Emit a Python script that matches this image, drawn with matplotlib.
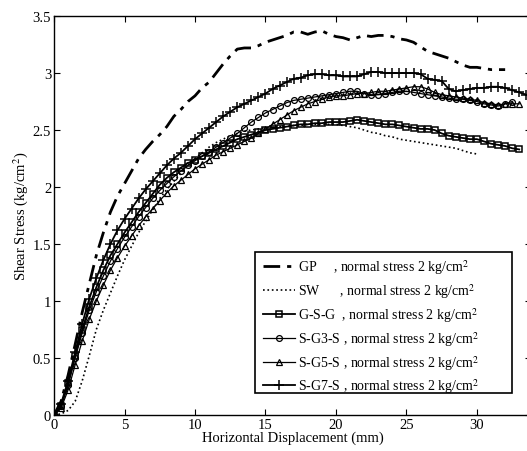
import matplotlib
matplotlib.use("Agg")
import matplotlib.pyplot as plt
from matplotlib.patches import Rectangle

plt.rcParams['font.family'] = ['Liberation Serif', 'DejaVu Serif']
plt.rcParams['mathtext.fontset'] = 'stix'

# horizontal displacement (mm), same grid for every test
disp = [0, 0.5, 1, 1.5, 2, 2.5, 3, 3.5, 4, 4.5, 5, 5.5, 6, 6.5, 7, 7.5, 8, 8.5, 9, 9.5,
        10, 10.5, 11, 11.5, 12, 12.5, 13, 13.5, 14, 14.5, 15, 15.5, 16, 16.5, 17, 17.5,
        18, 18.5, 19, 19.5, 20, 20.5, 21, 21.5, 22, 22.5, 23, 23.5, 24, 24.5, 25, 25.5,
        26, 26.5, 27, 27.5, 28, 28.5, 29, 29.5, 30, 30.5, 31, 31.5, 32, 32.5, 33, 33.5]

gp = [0, 0.12, 0.35, 0.62, 0.9, 1.15, 1.4, 1.6, 1.78, 1.92, 2.03, 2.14, 2.25, 2.33, 2.4, 2.46,
      2.53, 2.62, 2.68, 2.75, 2.8, 2.87, 2.92, 3.0, 3.08, 3.15, 3.21, 3.22, 3.22, 3.24, 3.27,
      3.29, 3.31, 3.33, 3.36, 3.36, 3.34, 3.36, 3.37, 3.34, 3.32, 3.31, 3.29, 3.31, 3.33, 3.32,
      3.33, 3.33, 3.32, 3.30, 3.29, 3.27, 3.23, 3.19, 3.17, 3.15, 3.13, 3.1, 3.07, 3.05, 3.05,
      3.04, 3.03, 3.03, 3.03]

sw = [0, 0.01, 0.04, 0.12, 0.3, 0.52, 0.75, 0.92, 1.07, 1.22, 1.36, 1.48, 1.6, 1.7, 1.8, 1.9,
      1.98, 2.05, 2.12, 2.19, 2.25, 2.3, 2.35, 2.39, 2.42, 2.45, 2.47, 2.49, 2.5, 2.51, 2.52,
      2.52, 2.53, 2.53, 2.54, 2.54, 2.55, 2.55, 2.55, 2.55, 2.55, 2.54, 2.53, 2.52, 2.5, 2.48,
      2.47, 2.45, 2.44, 2.42, 2.41, 2.4, 2.39, 2.38, 2.37, 2.36, 2.35, 2.34, 2.32, 2.3, 2.29]

gsg = [0, 0.08, 0.28, 0.52, 0.75, 0.95, 1.12, 1.27, 1.4, 1.5, 1.6, 1.69, 1.78, 1.86, 1.94, 2.02,
       2.08, 2.13, 2.17, 2.21, 2.24, 2.27, 2.3, 2.33, 2.36, 2.39, 2.42, 2.44, 2.46, 2.48, 2.5,
       2.51, 2.52, 2.53, 2.54, 2.55, 2.55, 2.56, 2.56, 2.57, 2.57, 2.57, 2.58, 2.59, 2.58, 2.57,
       2.56, 2.55, 2.55, 2.54, 2.53, 2.52, 2.51, 2.51, 2.5, 2.47, 2.45, 2.44, 2.43, 2.42, 2.42,
       2.4, 2.38, 2.37, 2.36, 2.34, 2.33]

sg3s = [0, 0.08, 0.26, 0.5, 0.72, 0.92, 1.08, 1.22, 1.35, 1.46, 1.56, 1.65, 1.74, 1.82, 1.9,
        1.97, 2.03, 2.09, 2.14, 2.19, 2.23, 2.27, 2.31, 2.35, 2.39, 2.43, 2.47, 2.52, 2.57, 2.61,
        2.65, 2.68, 2.71, 2.74, 2.76, 2.77, 2.78, 2.79, 2.8, 2.81, 2.82, 2.83, 2.84, 2.84, 2.82,
        2.81, 2.81, 2.82, 2.83, 2.84, 2.84, 2.83, 2.82, 2.81, 2.8, 2.79, 2.78, 2.77, 2.77, 2.76,
        2.75, 2.73, 2.72, 2.71, 2.73, 2.75]

sg5s = [0, 0.06, 0.22, 0.44, 0.65, 0.84, 1.0, 1.14, 1.27, 1.38, 1.48, 1.57, 1.66, 1.74, 1.81,
        1.88, 1.95, 2.01, 2.06, 2.11, 2.16, 2.2, 2.24, 2.28, 2.31, 2.34, 2.37, 2.4, 2.43, 2.47,
        2.51, 2.55, 2.59, 2.63, 2.67, 2.7, 2.73, 2.75, 2.77, 2.79, 2.8, 2.8, 2.81, 2.82, 2.82,
        2.83, 2.84, 2.84, 2.85, 2.86, 2.87, 2.88, 2.88, 2.86, 2.83, 2.81, 2.8, 2.79, 2.78, 2.77,
        2.76, 2.74, 2.73, 2.72, 2.73, 2.73, 2.73]

sg7s = [0, 0.1, 0.3, 0.55, 0.8, 1.02, 1.2, 1.36, 1.5, 1.62, 1.72, 1.81, 1.9, 1.98, 2.05, 2.12,
        2.19, 2.25, 2.3, 2.36, 2.42, 2.47, 2.52, 2.57, 2.62, 2.66, 2.7, 2.73, 2.76, 2.79, 2.82,
        2.86, 2.89, 2.92, 2.95, 2.96, 2.98, 2.99, 2.99, 2.98, 2.98, 2.97, 2.97, 2.97, 2.99, 3.01,
        3.01, 3.0, 3.0, 3.0, 3.0, 3.0, 2.99, 2.95, 2.94, 2.93, 2.86, 2.84, 2.85, 2.86, 2.87,
        2.87, 2.88, 2.88, 2.87, 2.85, 2.83, 2.81]

unit = ', normal stress 2 kg/cm$^2$'
names = ['GP     ', 'SW      ', 'G-S-G  ', 'S-G3-S ', 'S-G5-S ', 'S-G7-S ']

fig = plt.figure(figsize=(5.27, 4.52), dpi=100)
ax = fig.add_axes([0.1025, 0.0796, 0.905, 0.8827])

ax.plot(disp[:len(gp)], gp, color='k', lw=2.0, dashes=(6, 2.5, 1.5, 2.5), label=names[0] + unit)
ax.plot(disp[:len(sw)], sw, color='k', lw=1.2, ls=':', label=names[1] + unit)
ax.plot(disp[:len(gsg)], gsg, color='k', lw=1.3, marker='s', ms=4.2, mfc='none', mew=1.1,
        label=names[2] + unit)
ax.plot(disp[:len(sg3s)], sg3s, color='k', lw=0.9, marker='o', ms=4.2, mfc='none', mew=0.9,
        label=names[3] + unit)
ax.plot(disp[:len(sg5s)], sg5s, color='k', lw=0.9, marker='^', ms=4.2, mfc='none', mew=0.9,
        label=names[4] + unit)
ax.plot(disp[:len(sg7s)], sg7s, color='k', lw=1.3, marker='+', ms=6.5, mew=1.1,
        label=names[5] + unit)

ax.set_xlim(0, 33.83)
ax.set_ylim(0, 3.5)
ax.set_xticks([0, 5, 10, 15, 20, 25, 30])
ax.set_yticks([0, 0.5, 1, 1.5, 2, 2.5, 3, 3.5])
ax.set_yticklabels(['0', '0.5', '1', '1.5', '2', '2.5', '3', '3.5'])
ax.tick_params(direction='in', top=True, right=True, length=4, labelsize=10.5, pad=2)
for s in ax.spines.values():
    s.set_linewidth(1.0)

ax.set_xlabel('Horizontal Displacement (mm)', fontsize=10.5, labelpad=0)
ax.set_ylabel('Shear Stress (kg/cm$^2$)', fontsize=10.5, labelpad=2)

# legend box (MATLAB style, wider than its text)
ax.add_patch(Rectangle((0.421, 0.055), 0.539, 0.3535, transform=ax.transAxes,
                       facecolor='white', edgecolor='k', lw=1.2, zorder=4))
leg = ax.legend(loc='center left', bbox_to_anchor=(0.438, 0.222), borderaxespad=0,
                fontsize=10, frameon=False, borderpad=0,
                handlelength=2.3, handletextpad=0.2, labelspacing=0.36)
leg.set_zorder(5)

fig.savefig('out.png', dpi=100)
